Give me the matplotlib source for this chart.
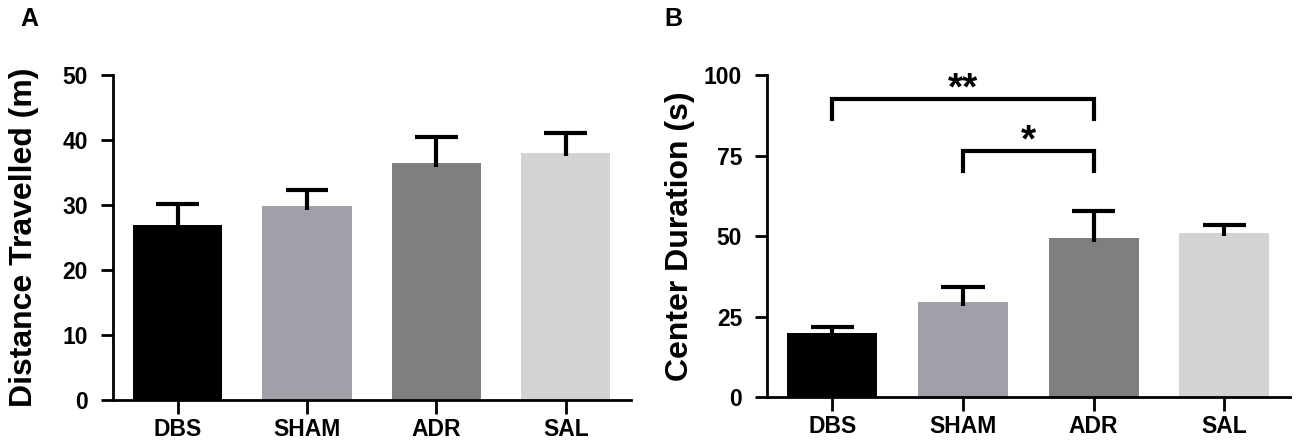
import numpy as np
import matplotlib.pyplot as plt

plt.rcParams['font.family'] = ['Liberation Sans', 'DejaVu Sans']
plt.rcParams['font.weight'] = 'bold'

groups = ['DBS', 'SHAM', 'ADR', 'SAL']
colors = ['#000000', '#a0a0a8', '#7f7f7f', '#d3d3d3']

# panel A: distance travelled (m), mean and SEM
dist_mean = [27.0, 29.9, 36.5, 38.1]
dist_sem = [3.2, 2.4, 4.0, 3.0]

# panel B: center duration (s), mean and SEM
center_mean = [20.0, 29.5, 49.3, 51.1]
center_sem = [1.6, 4.6, 8.4, 2.4]

# significance brackets for panel B: (left group, right group, height, drop, label, label y)
brackets = [(0, 2, 92.5, 86.5, '**', 95.5), (1, 2, 76.3, 70.2, '*', 79.5)]


def bar_panel(ax, means, sems, ylim, yticks, ylabel, label_x):
    x = np.arange(len(groups))
    ax.bar(x, means, width=0.69, color=colors, zorder=1)
    tops = np.array(means) + np.array(sems)
    ax.vlines(x, np.array(means) - 0.6 * ylim / 50, tops, color='black', lw=3, zorder=2)
    ax.hlines(tops, x - 0.165, x + 0.165, color='black', lw=3, zorder=2)
    ax.set_xlim(-0.5, 3.5)
    ax.set_ylim(0, ylim)
    ax.set_yticks(yticks)
    ax.set_xticks(x)
    ax.set_xticklabels(groups, fontsize=16.5, fontweight='bold')
    ax.tick_params(axis='y', labelsize=16.5, width=2, length=9, pad=9)
    ax.tick_params(axis='x', width=2, length=10, pad=3)
    for lab in ax.get_yticklabels():
        lab.set_fontweight('bold')
    ax.spines['top'].set_visible(False)
    ax.spines['right'].set_visible(False)
    ax.spines['left'].set_linewidth(2)
    ax.spines['bottom'].set_linewidth(2)
    ax.set_ylabel(ylabel, fontsize=23, fontweight='bold')
    ax.yaxis.set_label_coords(label_x, 0.5)


fig = plt.figure(figsize=(13, 4.45), dpi=100)
axA = fig.add_axes([0.087, 0.101, 0.398, 0.730])
axB = fig.add_axes([0.590, 0.108, 0.402, 0.723])

bar_panel(axA, dist_mean, dist_sem, 50, [0, 10, 20, 30, 40, 50], 'Distance Travelled (m)', -0.143)
bar_panel(axB, center_mean, center_sem, 100, [0, 25, 50, 75, 100], 'Center Duration (s)', -0.138)

for left, right, h, drop, lab, ty in brackets:
    axB.plot([left, left, right, right], [drop, h, h, drop], color='black', lw=3,
             solid_joinstyle='miter', clip_on=False)
    axB.text((left + right) / 2, ty, lab, ha='center', va='center',
             fontsize=28, fontweight='bold')

fig.text(0.016, 0.958, 'A', fontsize=18, fontweight='bold', va='center')
fig.text(0.511, 0.958, 'B', fontsize=18, fontweight='bold', va='center')

fig.savefig('out.png', dpi=100)
